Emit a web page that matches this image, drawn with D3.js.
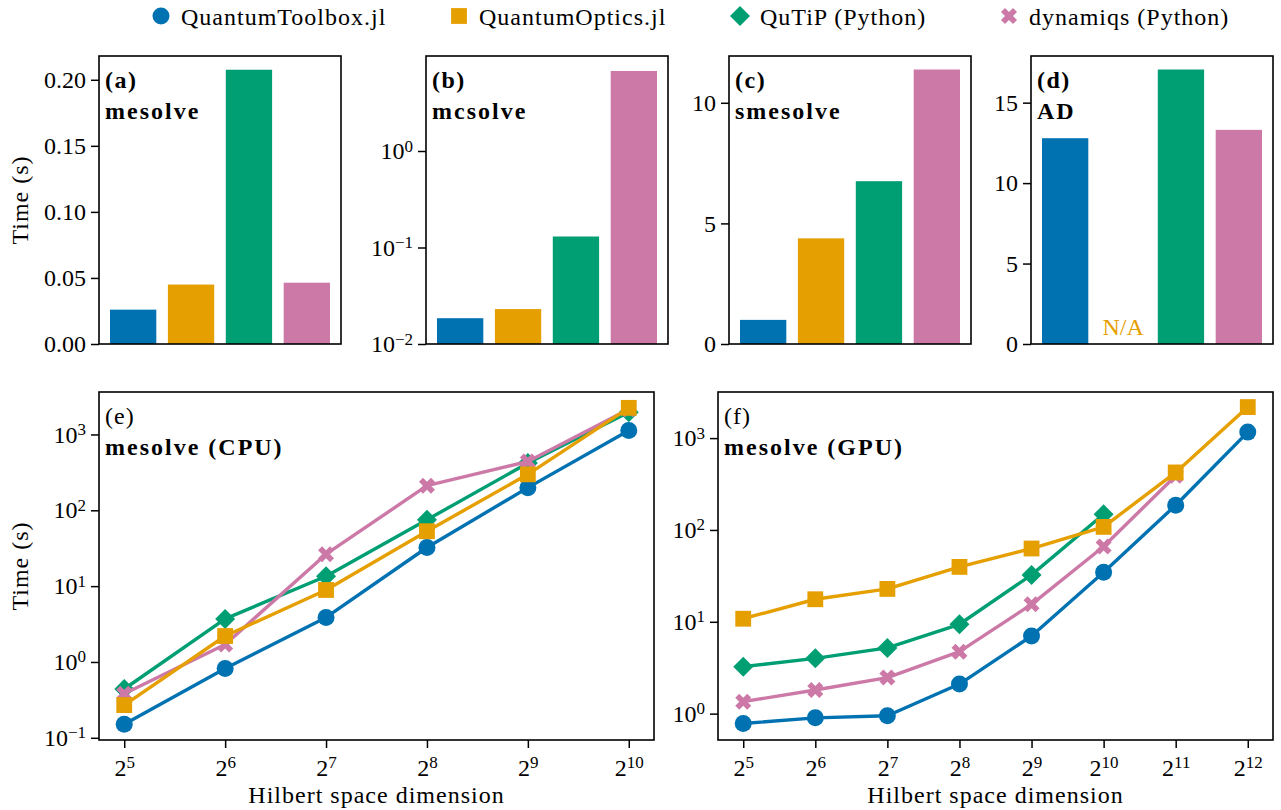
<!DOCTYPE html>
<html>
<head>
<meta charset="utf-8">
<script src="https://cdn.jsdelivr.net/npm/d3@7"></script>
<style>
  body { margin: 0; background: #fff; }
  svg { display: block; }
  text { font-family: "Liberation Serif", "DejaVu Serif", serif; fill: #000; }
</style>
</head>
<body>
<div id="chart"></div>
<script>
// libraries compared, in legend order
var libraries = ["QuantumToolbox.jl", "QuantumOptics.jl", "QuTiP (Python)", "dynamiqs (Python)"];
var colors = ["#0072B2", "#E69F00", "#009E73", "#CC79A7"];
var markerTypes = ["circle", "square", "diamond", "cross"];

// top row: single timings (s)
var mesolveTime = [0.026, 0.045, 0.2076, 0.0464];
var mcsolveTime = [0.0185, 0.023, 0.13, 6.75];
var smesolveTime = [1.0, 4.38, 6.75, 11.38];
var adTime = [12.79, null, 17.06, 13.31];

var ticksA = [0, 0.05, 0.10, 0.15, 0.20];
var ticksB = [0.01, 0.1, 1];
var ticksC = [0, 5, 10];
var ticksD = [0, 5, 10, 15];

// bottom row: scaling with Hilbert space dimension (s)
var cpuDims = [32, 64, 128, 256, 512, 1024];
var cpuToolbox = [0.151, 0.82, 3.87, 32.3, 199, 1130];
var cpuOptics = [0.27, 2.2, 8.9, 53, 298, 2245];
var cpuQutip = [0.44, 3.7, 13.5, 75, 420, 1966];
var cpuDynamiqs = [0.38, 1.7, 26.4, 211, 440, 2150];

var gpuDims = [32, 64, 128, 256, 512, 1024, 2048, 4096];
var gpuToolbox = [0.78, 0.90, 0.95, 2.1, 7.0, 34.7, 186, 1162];
var gpuOptics = [10.8, 17.6, 22.8, 39.6, 62.8, 108, 423, 2178];
var gpuQutip = [3.25, 4.0, 5.2, 9.4, 32.4, 148];
var gpuDynamiqs = [1.35, 1.81, 2.47, 4.73, 15.5, 66, 390];

var ticksLogE = [0.1, 1, 10, 100, 1000];
var ticksLogF = [1, 10, 100, 1000];

var W = 1281, H = 810;
var svg = d3.select("#chart").append("svg")
  .attr("width", W)
  .attr("height", H);

function styleAxis(g) {
  g.select(".domain").remove();
  g.selectAll(".tick line").attr("stroke", "#000").attr("stroke-width", 1.5);
  g.selectAll(".tick text")
    .attr("font-size", 24)
    .attr("fill", "#000")
    .style("font-family", '"Liberation Serif", serif');
}

function powLabels(g, base) {
  g.selectAll(".tick text").each(function(d) {
    var e = Math.round(Math.log(d) / Math.log(base));
    var t = d3.select(this);
    t.text(null);
    t.append("tspan").text(base);
    t.append("tspan")
      .attr("dy", "-0.45em")
      .attr("font-size", 17)
      .text(e < 0 ? "\u2212" + (-e) : e);
  });
}

function addFrame(g, w, h) {
  g.append("rect")
    .attr("width", w)
    .attr("height", h)
    .attr("fill", "none")
    .attr("stroke", "#000")
    .attr("stroke-width", 1.6);
}

function addTitle(g, tag, name, tagBold) {
  g.append("text")
    .attr("x", 6).attr("y", 32)
    .attr("font-size", 24)
    .attr("font-weight", tagBold ? "bold" : "normal")
    .style("letter-spacing", tagBold ? "1.5px" : "1px")
    .text(tag);
  g.append("text")
    .attr("x", 6).attr("y", 63)
    .attr("font-size", 24)
    .attr("font-weight", "bold")
    .style("letter-spacing", "2px")
    .text(name);
}

function drawMarker(sel, type, color) {
  if (type === "circle") {
    sel.append("circle").attr("r", 8.5).attr("fill", color);
  } else if (type === "square") {
    sel.append("path").attr("d", d3.symbol(d3.symbolSquare, 250)()).attr("fill", color);
  } else if (type === "diamond") {
    sel.append("path").attr("d", d3.symbol(d3.symbolSquare, 200)())
      .attr("transform", "rotate(45)").attr("fill", color);
  } else {
    sel.append("path").attr("d", d3.symbol(d3.symbolCross, 160)())
      .attr("transform", "rotate(45)").attr("fill", color);
  }
}

// ---------- top row: bar panels ----------
var topY = 56, topH = 288, barW = 242;
var barPanels = [
  { tag: "(a)", name: "mesolve", left: 99, values: mesolveTime,
    y: d3.scaleLinear().domain([0, 0.218]), ticks: ticksA, fmt: d3.format(".2f") },
  { tag: "(b)", name: "mcsolve", left: 426, values: mcsolveTime,
    y: d3.scaleLog().domain([0.01, 9.65]), ticks: ticksB, log: true },
  { tag: "(c)", name: "smesolve", left: 729, values: smesolveTime,
    y: d3.scaleLinear().domain([0, 11.94]), ticks: ticksC, fmt: d3.format("d") },
  { tag: "(d)", name: "AD", left: 1031, values: adTime,
    y: d3.scaleLinear().domain([0, 17.9]), ticks: ticksD, fmt: d3.format("d") }
];

var xBand = d3.scaleBand()
  .domain(d3.range(libraries.length))
  .range([0, barW])
  .paddingInner(0.2)
  .paddingOuter(0.19);

barPanels.forEach(function(p) {
  p.y.range([topH, 0]);
  var g = svg.append("g").attr("transform", "translate(" + p.left + "," + topY + ")");

  g.selectAll("rect.bar")
    .data(p.values.map(function(v, i) { return { v: v, i: i }; }).filter(function(d) { return d.v != null; }))
    .enter()
    .append("rect")
    .attr("class", "bar")
    .attr("x", function(d) { return xBand(d.i); })
    .attr("y", function(d) { return p.y(d.v); })
    .attr("width", xBand.bandwidth())
    .attr("height", function(d) { return topH - p.y(d.v); })
    .attr("fill", function(d) { return colors[d.i]; });

  p.values.forEach(function(v, i) {
    if (v == null) {
      g.append("text")
        .attr("x", xBand(i) + xBand.bandwidth() / 2)
        .attr("y", topH - 9)
        .attr("text-anchor", "middle")
        .attr("font-size", 24)
        .style("fill", colors[i])
        .text("N/A");
    }
  });

  var axis = d3.axisLeft(p.y).tickValues(p.ticks).tickSize(8).tickPadding(5);
  if (!p.log) axis.tickFormat(p.fmt);
  var ag = g.append("g").call(axis);
  styleAxis(ag);
  if (p.log) powLabels(ag, 10);

  addFrame(g, barW, topH);
  addTitle(g, p.tag, p.name, true);
});

// ---------- bottom row: scaling panels ----------
var botY = 392, botH = 348, lineW = 555;
var linePanels = [
  { tag: "(e)", name: "mesolve (CPU)", left: 99, dims: cpuDims,
    series: [cpuToolbox, cpuOptics, cpuQutip, cpuDynamiqs],
    x: d3.scaleLog().base(2).domain([Math.pow(2, 4.75), Math.pow(2, 10.25)]),
    y: d3.scaleLog().domain([Math.pow(10, -1.029), Math.pow(10, 3.56)]),
    yTicks: ticksLogE, order: [2, 3, 0, 1] },
  { tag: "(f)", name: "mesolve (GPU)", left: 718, dims: gpuDims,
    series: [gpuToolbox, gpuOptics, gpuQutip, gpuDynamiqs],
    x: d3.scaleLog().base(2).domain([Math.pow(2, 4.65), Math.pow(2, 12.35)]),
    y: d3.scaleLog().domain([Math.pow(10, -0.287), Math.pow(10, 3.502)]),
    yTicks: ticksLogF, order: [3, 2, 0, 1] }
];

linePanels.forEach(function(p) {
  p.x.range([0, lineW]);
  p.y.range([botH, 0]);
  var g = svg.append("g").attr("transform", "translate(" + p.left + "," + botY + ")");

  var line = d3.line()
    .x(function(d) { return p.x(d.dim); })
    .y(function(d) { return p.y(d.t); });

  p.order.forEach(function(k) {
    var pts = p.series[k].map(function(t, i) { return { dim: p.dims[i], t: t }; });
    g.append("path")
      .datum(pts)
      .attr("d", line)
      .attr("fill", "none")
      .attr("stroke", colors[k])
      .attr("stroke-width", 3.4)
      .attr("stroke-linejoin", "round");
    g.selectAll("g.m" + k)
      .data(pts)
      .enter()
      .append("g")
      .attr("class", "m" + k)
      .attr("transform", function(d) { return "translate(" + p.x(d.dim) + "," + p.y(d.t) + ")"; })
      .each(function() { drawMarker(d3.select(this), markerTypes[k], colors[k]); });
  });

  var ya = g.append("g").call(d3.axisLeft(p.y).tickValues(p.yTicks).tickSize(8).tickPadding(5));
  styleAxis(ya);
  powLabels(ya, 10);

  var xa = g.append("g")
    .attr("transform", "translate(0," + botH + ")")
    .call(d3.axisBottom(p.x).tickValues(p.dims).tickSize(8).tickPadding(11));
  styleAxis(xa);
  powLabels(xa, 2);

  g.append("text")
    .attr("x", lineW / 2)
    .attr("y", botH + 63)
    .attr("text-anchor", "middle")
    .attr("font-size", 24)
    .style("letter-spacing", "1px")
    .text("Hilbert space dimension");

  addFrame(g, lineW, botH);
  addTitle(g, p.tag, p.name, false);
});

// y labels
[{ cy: topY + topH / 2 }, { cy: botY + botH / 2 }].forEach(function(d) {
  svg.append("text")
    .attr("transform", "translate(28," + d.cy + ") rotate(-90)")
    .attr("text-anchor", "middle")
    .attr("font-size", 24)
    .style("letter-spacing", "1px")
    .text("Time (s)");
});

// legend
var legendX = [161, 459, 740, 1009];
libraries.forEach(function(name, i) {
  var lg = svg.append("g").attr("transform", "translate(" + legendX[i] + ",16)");
  drawMarker(lg, markerTypes[i], colors[i]);
  lg.append("text")
    .attr("x", 20)
    .attr("y", 9)
    .attr("font-size", 24)
    .style("letter-spacing", "1px")
    .text(name);
});
</script>
</body>
</html>
